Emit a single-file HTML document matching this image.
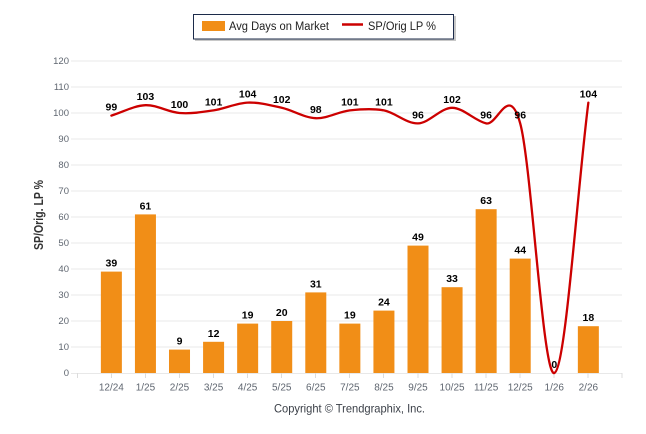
<!DOCTYPE html>
<html>
<head>
<meta charset="utf-8">
<style>
  html, body { margin: 0; padding: 0; background: #ffffff; }
  svg { display: block; }
  text { font-family: "Liberation Sans", Arial, sans-serif; }
  .yl { font-size: 9.5px; fill: #5f6670; text-anchor: end; }
  .xl { font-size: 10px; fill: #5f6670; text-anchor: middle; }
  .dl { font-size: 10.5px; font-weight: bold; fill: #000; text-anchor: middle; }
  .grid { stroke: #e8e8e8; stroke-width: 1; }
</style>
</head>
<body>
<svg width="646" height="434" viewBox="0 0 646 434" xmlns="http://www.w3.org/2000/svg">
  <rect x="0" y="0" width="646" height="434" fill="#ffffff"/>

  <!-- Legend -->
  <rect x="195" y="16" width="261" height="25" fill="#9a9a9a" opacity="0.55"/>
  <rect x="193.5" y="14.5" width="260" height="24.5" fill="#ffffff" stroke="#1c2b4a" stroke-width="1"/>
  <rect x="202" y="21" width="23" height="10" fill="#f18e17"/>
  <text x="229" y="30" font-size="11.5" fill="#222" textLength="100" lengthAdjust="spacingAndGlyphs">Avg Days on Market</text>
  <line x1="342" y1="24.5" x2="363" y2="24.5" stroke="#cc0000" stroke-width="2.5"/>
  <text x="368" y="30" font-size="11.5" fill="#222" textLength="68" lengthAdjust="spacingAndGlyphs">SP/Orig LP %</text>

  <!-- Gridlines -->
  <g class="grid">
    <line x1="71" y1="61" x2="622" y2="61"/>
    <line x1="71" y1="87" x2="622" y2="87"/>
    <line x1="71" y1="113" x2="622" y2="113"/>
    <line x1="71" y1="139" x2="622" y2="139"/>
    <line x1="71" y1="165" x2="622" y2="165"/>
    <line x1="71" y1="191" x2="622" y2="191"/>
    <line x1="71" y1="217" x2="622" y2="217"/>
    <line x1="71" y1="243" x2="622" y2="243"/>
    <line x1="71" y1="269" x2="622" y2="269"/>
    <line x1="71" y1="295" x2="622" y2="295"/>
    <line x1="71" y1="321" x2="622" y2="321"/>
    <line x1="71" y1="347" x2="622" y2="347"/>
    <line x1="71" y1="373.5" x2="622" y2="373.5"/>
  </g>

  <!-- Y axis labels -->
  <text class="yl" x="69" y="64">120</text>
  <text class="yl" x="69" y="90">110</text>
  <text class="yl" x="69" y="116">100</text>
  <text class="yl" x="69" y="142">90</text>
  <text class="yl" x="69" y="168">80</text>
  <text class="yl" x="69" y="194">70</text>
  <text class="yl" x="69" y="220">60</text>
  <text class="yl" x="69" y="246">50</text>
  <text class="yl" x="69" y="272">40</text>
  <text class="yl" x="69" y="298">30</text>
  <text class="yl" x="69" y="324">20</text>
  <text class="yl" x="69" y="350">10</text>
  <text class="yl" x="69" y="376">0</text>

  <!-- Y axis title -->
  <text x="0" y="0" transform="translate(43,215) rotate(-90)" font-size="13" font-weight="bold" fill="#333" text-anchor="middle" textLength="70" lengthAdjust="spacingAndGlyphs">SP/Orig. LP %</text>

  <!-- X ticks -->
  <g stroke="#dcdcdc" stroke-width="1">
    <line x1="77.5" y1="373" x2="77.5" y2="378"/>
    <line x1="111.5" y1="373" x2="111.5" y2="378"/>
    <line x1="145.5" y1="373" x2="145.5" y2="378"/>
    <line x1="179.5" y1="373" x2="179.5" y2="378"/>
    <line x1="213.5" y1="373" x2="213.5" y2="378"/>
    <line x1="247.5" y1="373" x2="247.5" y2="378"/>
    <line x1="281.5" y1="373" x2="281.5" y2="378"/>
    <line x1="315.5" y1="373" x2="315.5" y2="378"/>
    <line x1="349.5" y1="373" x2="349.5" y2="378"/>
    <line x1="383.5" y1="373" x2="383.5" y2="378"/>
    <line x1="418" y1="373" x2="418" y2="378"/>
    <line x1="452" y1="373" x2="452" y2="378"/>
    <line x1="486" y1="373" x2="486" y2="378"/>
    <line x1="520" y1="373" x2="520" y2="378"/>
    <line x1="554" y1="373" x2="554" y2="378"/>
    <line x1="588" y1="373" x2="588" y2="378"/>
    <line x1="622" y1="373" x2="622" y2="378"/>
  </g>

  <!-- Bars -->
  <g fill="#f18e17">
    <rect x="100.87" y="271.6" width="21" height="101.4"/>
    <rect x="134.94" y="214.4" width="21" height="158.6"/>
    <rect x="169.01" y="349.6" width="21" height="23.4"/>
    <rect x="203.08" y="341.8" width="21" height="31.2"/>
    <rect x="237.15" y="323.6" width="21" height="49.4"/>
    <rect x="271.22" y="321" width="21" height="52"/>
    <rect x="305.29" y="292.4" width="21" height="80.6"/>
    <rect x="339.36" y="323.6" width="21" height="49.4"/>
    <rect x="373.43" y="310.6" width="21" height="62.4"/>
    <rect x="407.5" y="245.6" width="21" height="127.4"/>
    <rect x="441.57" y="287.2" width="21" height="85.8"/>
    <rect x="475.64" y="209.2" width="21" height="163.8"/>
    <rect x="509.71" y="258.6" width="21" height="114.4"/>
    <rect x="577.85" y="326.2" width="21" height="46.8"/>
  </g>

  <!-- Line -->
  <path fill="none" stroke="#cc0000" stroke-width="2.3" stroke-linejoin="round" stroke-linecap="round"
    d="M111.37,115.6
       C122.73,112.13 134.08,105.63 145.44,105.2
       C156.80,104.77 168.15,112.13 179.51,113
       C190.87,113.87 202.22,112.13 213.58,110.4
       C224.94,108.67 236.29,103.03 247.65,102.6
       C259.01,102.17 270.36,105.2 281.72,107.8
       C293.08,110.4 304.43,117.77 315.79,118.2
       C327.15,118.63 338.50,111.7 349.86,110.4
       C361.22,109.1 372.57,108.23 383.93,110.4
       C395.29,112.57 406.64,123.83 418.0,123.4
       C429.36,122.97 440.71,107.8 452.07,107.8
       C463.43,107.8 474.78,120.8 486.14,123.4
       C497.50,126.0 508.85,81.8 520.21,123.4
       C531.57,165.0 542.92,376.47 554.28,373
       C565.64,369.53 576.99,192.73 588.35,102.6"/>

  <!-- Bar labels -->
  <text class="dl" x="111.37" y="266.6">39</text>
  <text class="dl" x="145.44" y="209.4">61</text>
  <text class="dl" x="179.51" y="344.6">9</text>
  <text class="dl" x="213.58" y="336.8">12</text>
  <text class="dl" x="247.65" y="318.6">19</text>
  <text class="dl" x="281.72" y="316">20</text>
  <text class="dl" x="315.79" y="287.4">31</text>
  <text class="dl" x="349.86" y="318.6">19</text>
  <text class="dl" x="383.93" y="305.6">24</text>
  <text class="dl" x="418.0" y="240.6">49</text>
  <text class="dl" x="452.07" y="282.2">33</text>
  <text class="dl" x="486.14" y="204.2">63</text>
  <text class="dl" x="520.21" y="253.6">44</text>
  <text class="dl" x="554.28" y="368">0</text>
  <text class="dl" x="588.35" y="321.2">18</text>

  <!-- Line labels -->
  <text class="dl" x="111.37" y="110.6">99</text>
  <text class="dl" x="145.44" y="100.2">103</text>
  <text class="dl" x="179.51" y="108">100</text>
  <text class="dl" x="213.58" y="105.4">101</text>
  <text class="dl" x="247.65" y="97.6">104</text>
  <text class="dl" x="281.72" y="102.8">102</text>
  <text class="dl" x="315.79" y="113.2">98</text>
  <text class="dl" x="349.86" y="105.4">101</text>
  <text class="dl" x="383.93" y="105.4">101</text>
  <text class="dl" x="418.0" y="118.4">96</text>
  <text class="dl" x="452.07" y="102.8">102</text>
  <text class="dl" x="486.14" y="118.4">96</text>
  <text class="dl" x="520.21" y="118.4">96</text>
  <text class="dl" x="588.35" y="97.6">104</text>

  <!-- X labels -->
  <text class="xl" x="111.37" y="390.5">12/24</text>
  <text class="xl" x="145.44" y="390.5">1/25</text>
  <text class="xl" x="179.51" y="390.5">2/25</text>
  <text class="xl" x="213.58" y="390.5">3/25</text>
  <text class="xl" x="247.65" y="390.5">4/25</text>
  <text class="xl" x="281.72" y="390.5">5/25</text>
  <text class="xl" x="315.79" y="390.5">6/25</text>
  <text class="xl" x="349.86" y="390.5">7/25</text>
  <text class="xl" x="383.93" y="390.5">8/25</text>
  <text class="xl" x="418.0" y="390.5">9/25</text>
  <text class="xl" x="452.07" y="390.5">10/25</text>
  <text class="xl" x="486.14" y="390.5">11/25</text>
  <text class="xl" x="520.21" y="390.5">12/25</text>
  <text class="xl" x="554.28" y="390.5">1/26</text>
  <text class="xl" x="588.35" y="390.5">2/26</text>

  <!-- Copyright -->
  <text x="274" y="412.5" font-size="12" fill="#3a3f47" textLength="151" lengthAdjust="spacingAndGlyphs">Copyright © Trendgraphix, Inc.</text>
</svg>
</body>
</html>
